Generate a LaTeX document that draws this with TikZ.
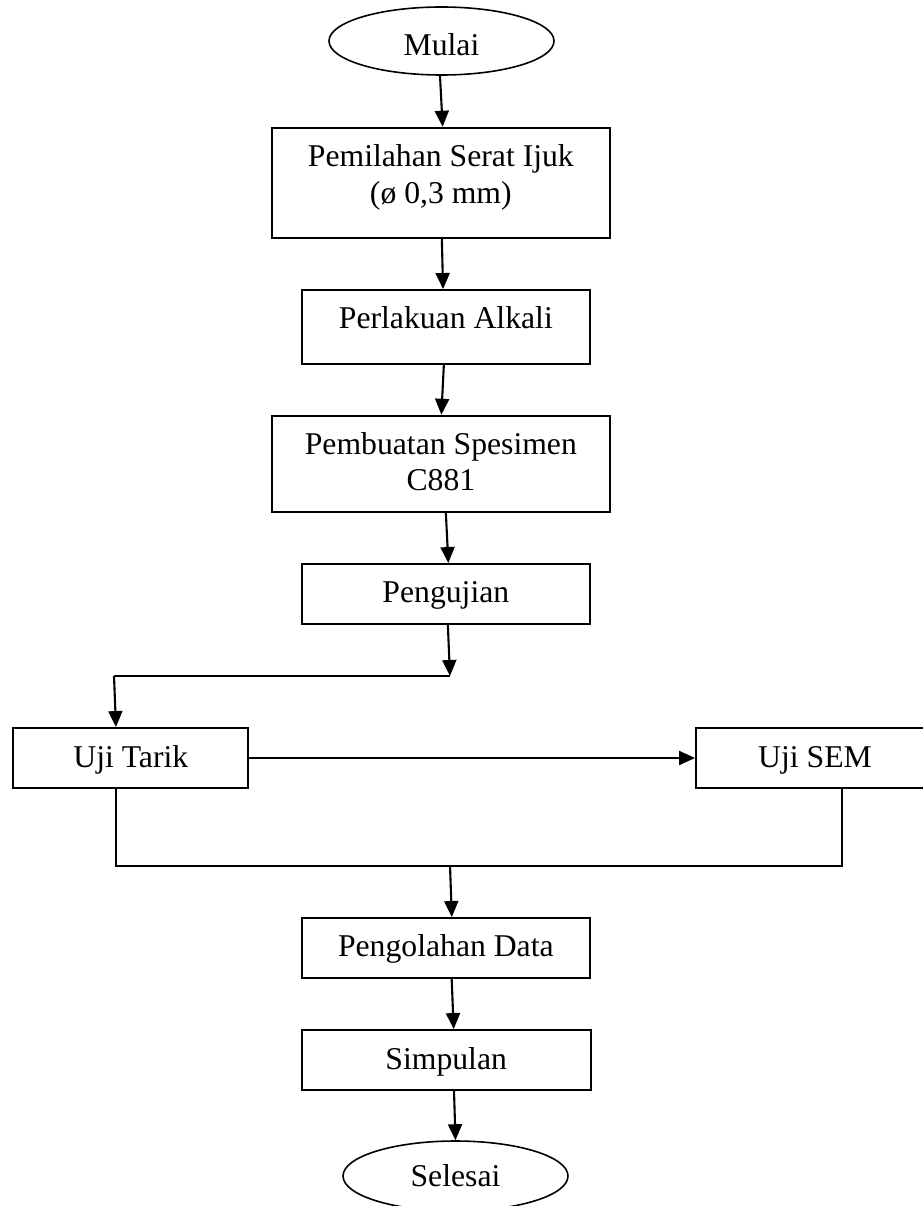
\documentclass[tikz,border=0pt]{standalone}
\usepackage{fontspec}
\setmainfont{Liberation Serif}
\usetikzlibrary{arrows.meta,shapes.geometric}
\tikzset{
  box/.style={draw, line width=1.9pt, rectangle, inner sep=0pt},
  term/.style={draw, line width=1.6pt, ellipse, inner sep=0pt, minimum width=225pt, font=\fontsize{31.7}{36.5}\selectfont},
  lbl/.style={inner sep=0pt, anchor=base, font=\fontsize{31.7}{36.5}\selectfont},
  arr/.style={line width=2.1pt, -{Triangle[length=16pt,width=14pt]}},
  ln/.style={line width=2pt},
}
\begin{document}
\begin{tikzpicture}[x=1pt,y=-1pt]
\useasboundingbox (0,0) rectangle (922,1206);
% terminals
\node[term, minimum height=68pt, text height=29pt, text depth=0pt] (mulai) at (441.5,41) {Mulai};
\node[term, minimum height=70pt] (selesai) at (455.5,1176) {Selesai};
% boxes
\node[box, minimum width=338.3pt, minimum height=110.3pt] (b1) at (440.85,182.85) {};
\node[box, minimum width=288.3pt, minimum height=74pt] (b2) at (445.85,327) {};
\node[box, minimum width=338.3pt, minimum height=96pt] (b3) at (440.85,463.7) {};
\node[box, minimum width=288.3pt, minimum height=60pt] (b4) at (445.85,594) {};
\node[box, minimum width=235pt, minimum height=60pt] (b5) at (130.8,758) {};
\node[box, minimum width=238pt, minimum height=60pt] (b6) at (815,758) {};
\node[box, minimum width=288.3pt, minimum height=59.7pt] (b7) at (445.85,947.85) {};
\node[box, minimum width=289pt, minimum height=60pt] (b8) at (446.2,1060) {};
% labels
\node[lbl] (t1) at ([yshift=-40pt]b1.north) {\setlength{\tabcolsep}{0pt}\begin{tabular}[t]{c}Pemilahan Serat Ijuk\\(ø 0,3 mm)\end{tabular}};
\node[lbl] (t2) at ([yshift=-39.5pt]b2.north) {Perlakuan Alkali};
\node[lbl] (t3) at ([yshift=-39.5pt]b3.north) {\setlength{\tabcolsep}{0pt}\begin{tabular}[t]{c}Pembuatan Spesimen\\C881\end{tabular}};
\node[lbl] (t4) at ([yshift=-39.5pt]b4.north) {Pengujian};
\node[lbl] (t5) at ([yshift=-40pt]b5.north) {Uji Tarik};
\node[lbl] (t6) at ([yshift=-40pt]b6.north) {Uji SEM};
\node[lbl] (t7) at ([yshift=-39.5pt]b7.north) {Pengolahan Data};
\node[lbl] (t8) at ([yshift=-40.5pt]b8.north) {Simpulan};
% junction coordinates
\coordinate (j1) at (450,676);
\coordinate (j2) at (114,676);
\coordinate (jl) at (116,866);
\coordinate (jr) at (842,866);
\coordinate (j3) at (450,866);
% connectors
\draw[arr] ([xshift=-1.5pt]mulai.south) -- ([xshift=1.8pt]b1.north);
\draw[arr] ([xshift=1pt]b1.south) -- ([xshift=-2.8pt]b2.north);
\draw[arr] ([xshift=-2pt]b2.south) -- ([xshift=0.5pt]b3.north);
\draw[arr] ([xshift=5pt]b3.south) -- ([xshift=2.5pt]b4.north);
\draw[arr] ([xshift=2pt]b4.south) -- (j1);
\draw[ln] (j1) -- (j2);
\draw[arr] (j2) -- ([xshift=-14.8pt]b5.north);
\draw[arr] (b5.east) -- (b6.west);
\draw[ln] ([xshift=-14.8pt]b5.south) -- (jl) -- (jr) -- ([xshift=27pt]b6.south);
\draw[arr] (j3) -- ([xshift=6pt]b7.north);
\draw[arr] ([xshift=5.8pt]b7.south) -- ([xshift=7.5pt]b8.north);
\draw[arr] ([xshift=7.8pt]b8.south) -- (selesai.north);
\end{tikzpicture}
\end{document}
